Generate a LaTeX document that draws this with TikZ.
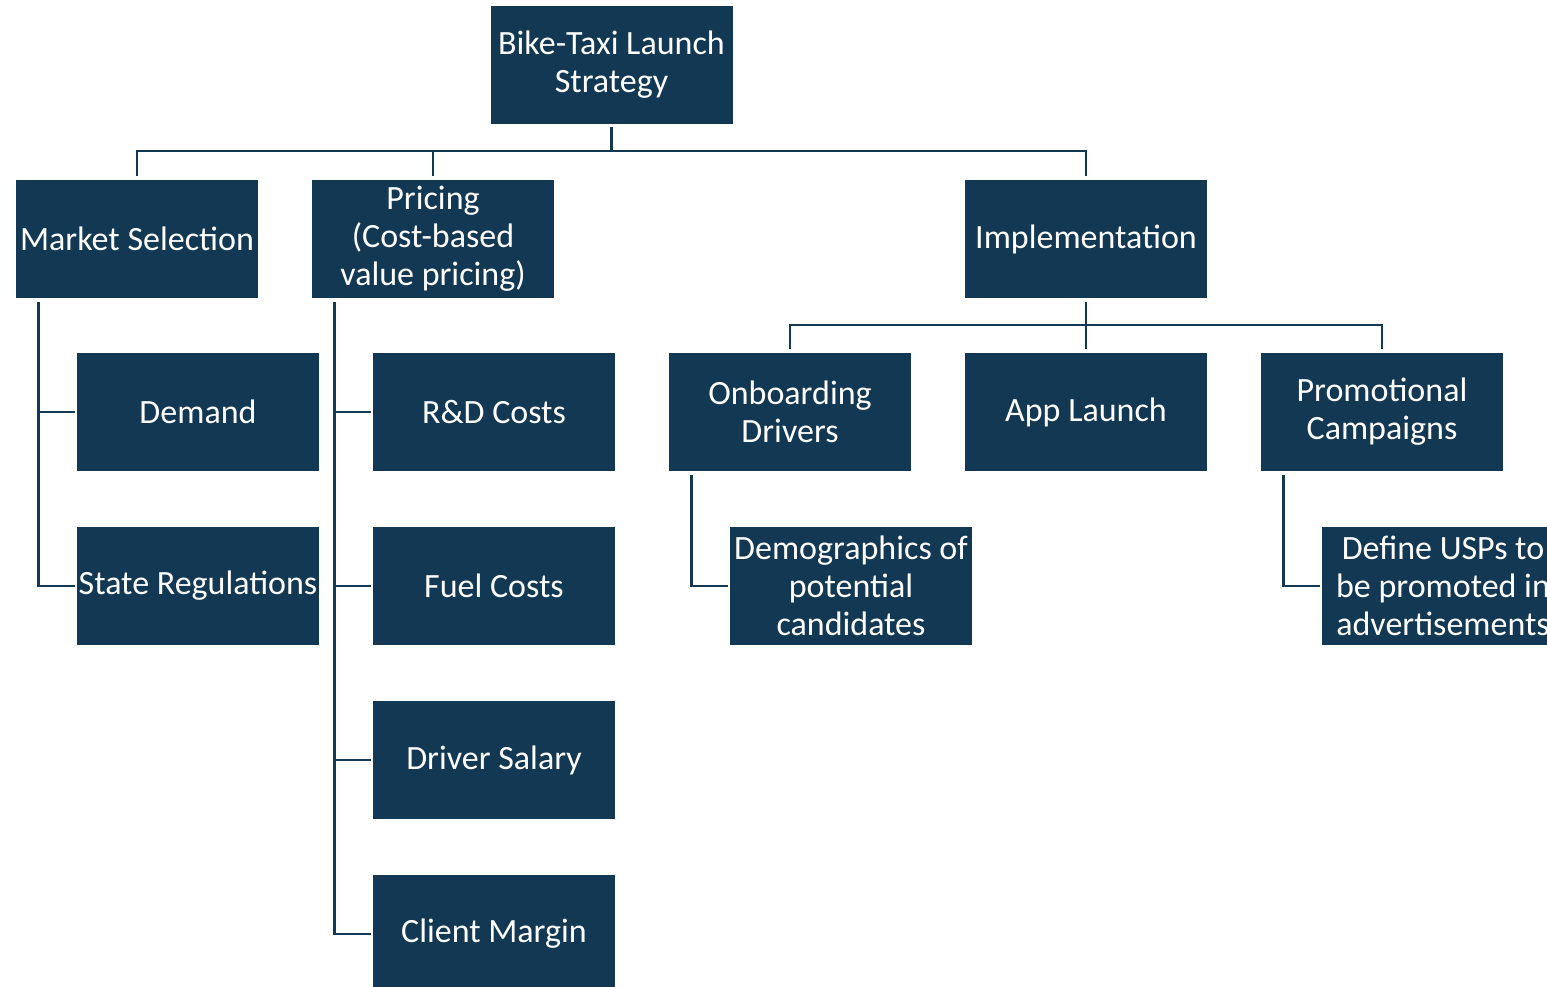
\documentclass[tikz,border=0pt]{standalone}
\usepackage{fontspec}
\setmainfont{Carlito}
\definecolor{boxblue}{HTML}{133853}
\begin{document}
\begin{tikzpicture}[x=1pt,y=-1pt,
  box/.style={fill=boxblue,text=white,minimum width=242pt,minimum height=118pt,
    inner sep=0pt,align=center,font=\fontsize{34}{38}\selectfont},
  conn/.style={draw=boxblue,line width=2.8pt}]
\useasboundingbox (0,0) rectangle (1547,987);
\clip (0,0) rectangle (1547,987);
% nodes
\node[box] (root) at (611.5,65) {Bike-Taxi Launch\\Strategy};
\node[box] (ms) at (137,239) {Market Selection};
\node[box] (pr) at (433,239) {Pricing\\(Cost-based\\value pricing)};
\node[box] (im) at (1086,239) {Implementation};
\node[box] (de) at (198,412) {Demand};
\node[box] (sr) at (198,586) {State Regulations};
\node[box] (rd) at (494,412) {R\&D Costs};
\node[box] (fc) at (494,586) {Fuel Costs};
\node[box] (ds) at (494,760) {Driver Salary};
\node[box] (cm) at (494,934) {Client Margin};
\node[box] (ob) at (790,412) {Onboarding\\Drivers};
\node[box] (al) at (1086,412) {App Launch};
\node[box] (pc) at (1382,412) {Promotional\\Campaigns};
\node[box] (dg) at (851,586) {Demographics of\\potential\\candidates};
\node[box] (usp) at (1443,586) {Define USPs to\\be promoted in\\advertisements};
% buses
\coordinate (b1) at (611.5,151);
\coordinate (b2) at (1086,325);
\draw[conn,shorten <=3pt,shorten >=4pt] (root.south) -- (b1) -| (ms.north);
\draw[conn,shorten >=4pt] (b1) -| (pr.north);
\draw[conn,shorten >=4pt] (b1) -| (im.north);
\draw[conn,shorten <=4pt,shorten >=4pt] (im.south) -- (b2) -| (ob.north);
\draw[conn,shorten >=4pt] (b2) -- (al.north);
\draw[conn,shorten >=4pt] (b2) -| (pc.north);
% side trunks
\draw[conn,shorten <=4pt,shorten >=2pt] ([xshift=23pt]ms.south west) |- (de.west);
\draw[conn,shorten <=4pt,shorten >=2pt] ([xshift=23pt]ms.south west) |- (sr.west);
\draw[conn,shorten <=4pt,shorten >=2pt] ([xshift=23pt]pr.south west) |- (rd.west);
\draw[conn,shorten <=4pt,shorten >=2pt] ([xshift=23pt]pr.south west) |- (fc.west);
\draw[conn,shorten <=4pt,shorten >=2pt] ([xshift=23pt]pr.south west) |- (ds.west);
\draw[conn,shorten <=4pt,shorten >=2pt] ([xshift=23pt]pr.south west) |- (cm.west);
\draw[conn,shorten <=4pt,shorten >=2pt] ([xshift=23pt]ob.south west) |- (dg.west);
\draw[conn,shorten <=4pt,shorten >=2pt] ([xshift=23pt]pc.south west) |- (usp.west);
\end{tikzpicture}
\end{document}
